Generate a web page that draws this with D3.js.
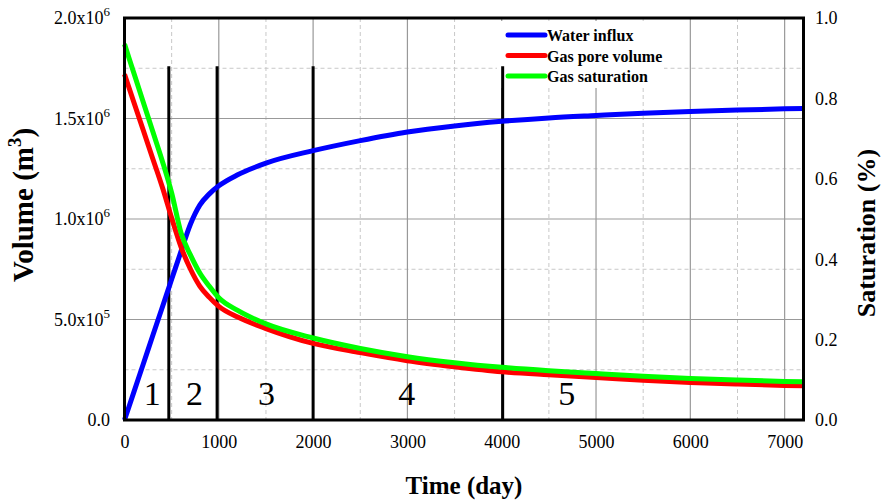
<!DOCTYPE html>
<html>
<head>
<meta charset="utf-8">
<script src="https://cdn.jsdelivr.net/npm/d3@7"></script>
<style>
  body { margin: 0; background: #fff; }
  svg text { font-family: "Liberation Serif", "Times New Roman", serif; fill: #000; }
</style>
</head>
<body>
<script>
// data
var timeDays = [0, 100, 200, 300, 400, 500, 600, 700, 800, 900, 1000, 1200, 1500, 2000,
                2500, 3000, 3500, 4000, 4500, 5000, 5500, 6000, 6500, 7000, 7200];
var waterInflux = [0, 140000, 280000, 420000, 560000, 700000, 840000, 975000, 1070000, 1125000,
                   1165000, 1220000, 1278000, 1340000, 1390000, 1433000, 1463000, 1486000,
                   1503000, 1515000, 1526000, 1535000, 1542000, 1548000, 1550000];
var gasPoreVolume = [1720000, 1580000, 1440000, 1300000, 1160000, 1005000, 860000, 750000, 665000,
                     610000, 565000, 512000, 455000, 381000, 335000, 295000, 265000, 240000,
                     225000, 212000, 198000, 187000, 179000, 172000, 170000];
var gasSaturation = [0.935, 0.8625, 0.79, 0.7175, 0.645, 0.565, 0.465, 0.41, 0.365, 0.3325,
                     0.304, 0.2725, 0.239, 0.204, 0.178, 0.1575, 0.1425, 0.131, 0.1225, 0.1155,
                     0.109, 0.1035, 0.0995, 0.096, 0.095];
var dividerDays = [470, 982, 2000, 4010];
var dividerTop = 1760000;
var regionLabels = ["1", "2", "3", "4", "5"];
var regionLabelDays = [293, 742, 1505, 2994, 4690];
var xTicks = [0, 1000, 2000, 3000, 4000, 5000, 6000, 7000];
var xMinor = [500, 1500, 2500, 3500, 4500, 5500, 6500];
var volTicks = [0, 500000, 1000000, 1500000, 2000000];
var volMinor = [250000, 750000, 1250000, 1750000];
var satTicks = [0, 0.2, 0.4, 0.6, 0.8, 1.0];
var seriesNames = ["Water influx", "Gas pore volume", "Gas saturation"];
var seriesColors = ["#0000ff", "#ff0000", "#00ff00"];

var W = 881, H = 504;
var pLeft = 124.5, pRight = 803.5, pTop = 18, pBottom = 420;

var svg = d3.select("body").append("svg")
            .attr("width", W)
            .attr("height", H);

var x = d3.scaleLinear().domain([0, 7200]).range([pLeft, pRight]);
var yVol = d3.scaleLinear().domain([0, 2000000]).range([pBottom, pTop]);
var ySat = d3.scaleLinear().domain([0, 1]).range([pBottom, pTop]);

// grid
var grid = svg.append("g");
grid.selectAll(".vminor").data(xMinor).enter().append("line")
    .attr("x1", d => x(d)).attr("x2", d => x(d))
    .attr("y1", pTop).attr("y2", pBottom)
    .attr("stroke", "#c8c8c8").attr("stroke-dasharray", "4,3");
grid.selectAll(".hminor").data(volMinor).enter().append("line")
    .attr("x1", pLeft).attr("x2", pRight)
    .attr("y1", d => yVol(d)).attr("y2", d => yVol(d))
    .attr("stroke", "#c8c8c8").attr("stroke-dasharray", "4,3");
grid.selectAll(".vmajor").data(xTicks.slice(1)).enter().append("line")
    .attr("x1", d => x(d)).attr("x2", d => x(d))
    .attr("y1", pTop).attr("y2", pBottom)
    .attr("stroke", "#999").attr("stroke-width", 1.2);
grid.selectAll(".hmajor").data(volTicks.slice(1, -1)).enter().append("line")
    .attr("x1", pLeft).attr("x2", pRight)
    .attr("y1", d => yVol(d)).attr("y2", d => yVol(d))
    .attr("stroke", "#999").attr("stroke-width", 1.2);

// legend backdrop hides the grid behind it
svg.append("rect")
   .attr("x", 497).attr("y", 21)
   .attr("width", 167).attr("height", 67)
   .attr("fill", "#fff");

// region dividers
svg.selectAll(".divider").data(dividerDays).enter().append("line")
   .attr("x1", d => x(d)).attr("x2", d => x(d))
   .attr("y1", yVol(dividerTop)).attr("y2", pBottom)
   .attr("stroke", "#000").attr("stroke-width", 3);

// curves
var line = (yScale) => d3.line()
                         .x((d, i) => x(timeDays[i]))
                         .y(d => yScale(d))
                         .curve(d3.curveMonotoneX);

var series = [[waterInflux, yVol], [gasPoreVolume, yVol], [gasSaturation, ySat]];
series.forEach((s, i) => {
  svg.append("path")
     .attr("d", line(s[1])(s[0]))
     .attr("fill", "none")
     .attr("stroke", seriesColors[i])
     .attr("stroke-width", 5);
});

// region numbers
svg.selectAll(".region").data(regionLabels).enter().append("text")
   .attr("x", (d, i) => x(regionLabelDays[i]))
   .attr("y", 405)
   .attr("text-anchor", "middle")
   .attr("font-size", 34)
   .text(d => d);

// frame
svg.append("rect")
   .attr("x", pLeft).attr("y", pTop)
   .attr("width", pRight - pLeft).attr("height", pBottom - pTop)
   .attr("fill", "none")
   .attr("stroke", "#000").attr("stroke-width", 3);

// x axis labels
svg.append("g")
   .attr("transform", "translate(0," + pBottom + ")")
   .call(d3.axisBottom(x).tickValues(xTicks).tickSize(0).tickPadding(15).tickFormat(d3.format("d")))
   .call(g => g.select(".domain").remove())
   .selectAll("text")
   .attr("font-size", 18)
   .attr("font-family", "Liberation Serif, serif")
   .attr("fill", "#000");

// left labels with superscript exponents
var volLabel = svg.selectAll(".vlab").data(volTicks).enter().append("text")
                  .attr("x", 110)
                  .attr("y", d => yVol(d))
                  .attr("dy", "0.36em")
                  .attr("text-anchor", "end")
                  .attr("font-size", 18);
volLabel.each(function (d) {
  var t = d3.select(this);
  if (d === 0) { t.text("0.0"); return; }
  var e = Math.floor(Math.log10(d));
  t.append("tspan").text((d / Math.pow(10, e)).toFixed(1) + "x10");
  t.append("tspan").attr("font-size", 13).attr("dy", -8).text(e);
});

// right labels
svg.selectAll(".slab").data(satTicks).enter().append("text")
   .attr("x", 815)
   .attr("y", d => ySat(d))
   .attr("dy", "0.36em")
   .attr("font-size", 18)
   .text(d => d.toFixed(1));

// axis titles
svg.append("text")
   .attr("x", (pLeft + pRight) / 2)
   .attr("y", 494)
   .attr("text-anchor", "middle")
   .attr("font-size", 25)
   .attr("font-weight", "bold")
   .text("Time (day)");

var vt = svg.append("text")
            .attr("transform", "translate(33,205)rotate(-90)")
            .attr("text-anchor", "middle")
            .attr("font-size", 29)
            .attr("font-weight", "bold");
vt.append("tspan").text("Volume (m");
vt.append("tspan").attr("font-size", 19).attr("dy", -12).text("3");
vt.append("tspan").attr("dy", 12).text(")");

svg.append("text")
   .attr("transform", "translate(875,233)rotate(-90)")
   .attr("text-anchor", "middle")
   .attr("font-size", 26)
   .attr("font-weight", "bold")
   .text("Saturation (%)");

// legend
var legend = svg.append("g");
seriesNames.forEach((name, i) => {
  var ly = 35 + i * 20.5;
  legend.append("line")
        .attr("x1", 508).attr("x2", 545)
        .attr("y1", ly).attr("y2", ly)
        .attr("stroke", seriesColors[i])
        .attr("stroke-width", 5)
        .attr("stroke-linecap", "round");
  legend.append("text")
        .attr("x", 547)
        .attr("y", ly + 6)
        .attr("font-size", 16)
        .attr("font-weight", "bold")
        .text(name);
});
</script>
</body>
</html>
